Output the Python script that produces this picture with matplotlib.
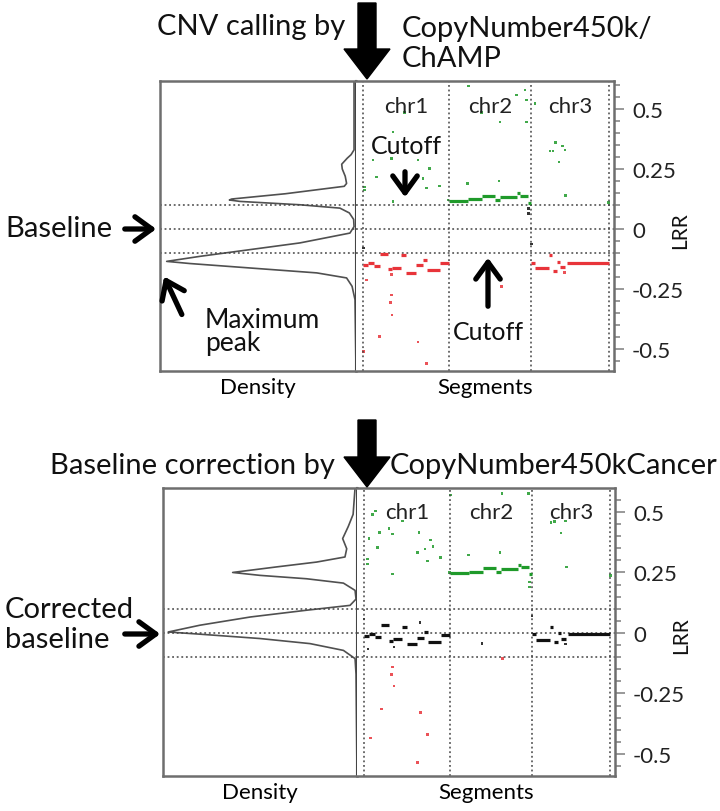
import matplotlib
matplotlib.use('Agg')
import matplotlib.pyplot as plt
from matplotlib.patches import Polygon, FancyArrowPatch
from matplotlib.ticker import MultipleLocator

plt.rcParams['font.family'] = ['Lato', 'DejaVu Sans']

W, H = 720, 812

# ---- data ----
cutoff = 0.1
chr_names = ['chr1', 'chr2', 'chr3']
chr_bounds = [0, 860, 1680, 2460]
lrr_ticks = [0.5, 0.25, 0, -0.25, -0.5]
lrr_tick_labels = ['0.5', '0.25', '0', '-0.25', '-0.5']

# density of LRR values (arbitrary units), before correction
top_dens_lrr = [0.62, 0.33, 0.31, 0.295, 0.27, 0.25, 0.22, 0.19, 0.178, 0.147, 0.125,
                0.121, 0.115, 0.101, 0.087, 0.067, 0.04, 0.01, -0.017, -0.058, -0.086,
                -0.114, -0.135, -0.144, -0.1625, -0.183, -0.204, -0.239, -0.295, -0.59]
top_dens = [0.1, 0.1, 0.25, 0.45, 0.73, 0.7, 0.55, 0.48, 0.6, 3.6, 6.34,
            6.46, 5.92, 2.86, 0.82, 0.34, 0.12, 0.1, 0.31, 2.86, 5.41,
            7.96, 9.66, 8.47, 5.41, 2.0, 0.48, 0.2, 0.05, 0.0]

# after baseline correction
bot_dens_lrr = [0.6, 0.49, 0.44, 0.39, 0.348, 0.314, 0.293, 0.273, 0.25, 0.238, 0.224,
                0.206, 0.176, 0.14, 0.114, 0.094, 0.066, 0.032, 0.004, -0.005, -0.023,
                -0.044, -0.072, -0.106, -0.17, -0.59]
bot_dens = [0.1, 0.2, 0.45, 0.74, 0.53, 0.62, 2.08, 4.14, 6.41, 5.0, 2.6,
            0.7, 0.1, 0.05, 0.36, 2.6, 5.5, 8.1, 9.73, 8.1, 5.0,
            2.42, 0.7, 0.1, 0.05, 0.0]

# segments (start, end, LRR)
seg_start = [0, 45, 110, 165, 250, 290, 380, 430, 530, 600, 640, 770,
             860, 1053, 1187, 1320, 1370, 1537, 1570, 1650,
             1680, 1720, 1860, 1895, 1935, 1965, 2035]
seg_end = [45, 110, 165, 250, 290, 380, 430, 530, 600, 640, 770, 860,
           1053, 1187, 1320, 1370, 1537, 1570, 1650, 1680,
           1715, 1855, 1893, 1935, 1965, 2015, 2460]
top_seg_lrr = [-0.15, -0.143, -0.155, -0.105, -0.168, -0.164, -0.108, -0.182, -0.15, -0.129, -0.171, -0.143,
               0.117, 0.124, 0.1375, 0.121, 0.135, 0.151, 0.1375, 0.11,
               -0.143, -0.164, -0.108, -0.174, -0.136, -0.16, -0.14]
bot_seg_lrr = [-0.013, -0.006, -0.018, 0.032, -0.033, -0.026, 0.025, -0.047, -0.019, 0.005, -0.036, -0.01,
               0.247, 0.253, 0.27, 0.253, 0.266, 0.281, 0.273, 0.245,
               -0.006, -0.029, 0.026, -0.037, 0.001, -0.023, -0.003]

# single probes outside segments
top_pt_x = [417, 300, 100, 283, 550, 667, 600, 633, 767, 133, 17, 17, 300, 850,
            33, 283, 277, 290, 167, 550, 5, 633, 283,
            1053, 1187, 1370, 1537, 1620, 1637, 1637, 1047, 1360, 1653, 1653, 1387, 1687,
            1720, 1927, 1870, 1900, 1993, 2020, 1960, 2027, 2455, 2015, 5]
top_pt_lrr = [0.485, 0.405, 0.2875, 0.294, 0.2875, 0.253, 0.211, 0.17, 0.179, 0.218, 0.176, 0.163, 0.114, 0.12,
              -0.2125, -0.275, -0.307, -0.358, -0.449, -0.47, -0.51, -0.56, -0.19,
              0.596, 0.485, 0.447, 0.558, 0.579, 0.5375, 0.447, 0.19, 0.201, 0.086, 0.065, -0.24, -0.0625,
              0.524, 0.361, 0.326, 0.326, 0.346, 0.329, 0.28, 0.139, 0.11, -0.182, -0.08]
bot_pt_x = [117, 83, 383, 157, 250, 283, 550, 667, 690, 50, 133, 533, 610, 633, 767, 33, 33, 283, 855,
            283, 277, 300, 177, 567, 67, 633, 533,
            0, 560, 40, 300,
            1047, 1360, 1380, 1643, 1653, 1653, 865, 1180, 1387, 1680,
            1870, 1903, 2013, 1970, 2027, 2463, 2015]
bot_pt_lrr = [0.504, 0.49, 0.463, 0.415, 0.431, 0.408, 0.415, 0.384, 0.357, 0.39, 0.3525, 0.332, 0.346, 0.2975,
              0.311, 0.305, 0.284, 0.2425, 0.25,
              -0.14, -0.171, -0.219, -0.313, -0.329, -0.435, -0.42, -0.536,
              0.057, 0.043, -0.067, -0.058,
              0.322, 0.332, 0.577, 0.577, 0.21, 0.19, 0.57, -0.043, -0.106, 0.07,
              0.456, 0.46, 0.463, 0.412, 0.273, 0.238, -0.045]

GREEN, RED, BLACK = '#1f9a2a', '#e8343a', '#111111'
EDGE = '#6e6e6e'


def colour(v):
    if v > cutoff:
        return GREEN
    if v < -cutoff:
        return RED
    return BLACK


def fpos(x, y):
    return x / W, 1 - y / H


def rect(l, t, r, b):
    return [l / W, 1 - b / H, (r - l) / W, (b - t) / H]


def panel(fig, left, mid, right, top, bottom, ylim, dlrr, dens, seg_lrr, pt_x, pt_lrr):
    axd = fig.add_axes(rect(left, top, mid, bottom))
    axs = fig.add_axes(rect(mid, top, right, bottom))

    axd.plot(dens, dlrr, color='#505050', lw=1.2)
    axd.set_xlim(10, 0)
    axd.set_ylim(*ylim)
    axd.set_xticks([])
    axd.set_yticks([])
    for s in ['left', 'top', 'bottom']:
        axd.spines[s].set_color(EDGE)
        axd.spines[s].set_linewidth(1.8)
    axd.spines['right'].set_color('#444444')
    axd.spines['right'].set_linewidth(1.5)
    axd.set_xlabel('Density', fontsize=16, labelpad=4)

    axs.set_xlim(-70, 2510)
    axs.set_ylim(*ylim)
    for v in [cutoff, 0, -cutoff]:
        axd.axhline(v, color='#444444', lw=1.1, ls=(0, (1.2, 1.8)))
        axs.axhline(v, color='#444444', lw=1.1, ls=(0, (1.2, 1.8)))
    for b in chr_bounds:
        axs.axvline(b, color='#444444', lw=1.1, ls=(0, (1.2, 1.8)))

    axs.hlines(seg_lrr, seg_start, seg_end, colors=[colour(v) for v in seg_lrr], lw=2.3)
    axs.scatter(pt_x, pt_lrr, s=3, marker='s', lw=0, c=[colour(v) for v in pt_lrr], alpha=0.85)

    for i, name in enumerate(chr_names):
        axs.text((chr_bounds[i] + chr_bounds[i + 1]) / 2, 0.915, name, fontsize=16,
                 ha='center', va='center', transform=axs.get_xaxis_transform(), color='#222222')

    axs.spines['left'].set_visible(False)
    for s in ['top', 'bottom', 'right']:
        axs.spines[s].set_color(EDGE)
        axs.spines[s].set_linewidth(1.8)
    axs.set_xticks([])
    axs.yaxis.tick_right()
    axs.set_yticks(lrr_ticks)
    axs.set_yticklabels(lrr_tick_labels)
    axs.yaxis.set_minor_locator(MultipleLocator(0.05))
    axs.tick_params(axis='y', which='major', length=7, width=1.2, color='#888888',
                    labelsize=16, pad=6, labelcolor='#222222')
    axs.tick_params(axis='y', which='minor', length=4, width=1.2, color='#888888')
    axs.set_xlabel('Segments', fontsize=16, labelpad=4)
    return axd, axs


fig = plt.figure(figsize=(W / 100, H / 100), dpi=100, facecolor='white')

panel(fig, 160, 356, 614, 82, 372, (-0.592, 0.617),
      top_dens_lrr, top_dens, top_seg_lrr, top_pt_x, top_pt_lrr)
panel(fig, 163, 357, 615, 489, 777, (-0.591, 0.599),
      bot_dens_lrr, bot_dens, bot_seg_lrr, bot_pt_x, bot_pt_lrr)


def txt(x, y, s, size, ha='left', rot=0, ls=1.2):
    fig.text(*fpos(x, y), s, fontsize=size, ha=ha, va='center', rotation=rot,
             color='#111111', linespacing=ls)


def arrow(x0, y0, x1, y1):
    fig.add_artist(FancyArrowPatch(fpos(x0, y0), fpos(x1, y1), transform=fig.transFigure,
                                   arrowstyle='->,head_length=0.55,head_width=0.4',
                                   mutation_scale=22, lw=3.8, color='black'))


def block_arrow(xc, y0, yh, y1):
    pts = [(xc - 9, y0), (xc + 9, y0), (xc + 9, yh), (xc + 23, yh), (xc, y1),
           (xc - 23, yh), (xc - 9, yh)]
    fig.add_artist(Polygon([fpos(x, y) for x, y in pts], closed=True,
                           transform=fig.transFigure, color='black'))


txt(680, 231, 'LRR', 15, ha='center', rot=90)
txt(681, 636, 'LRR', 15, ha='center', rot=90)

txt(157, 27, 'CNV calling by', 21)
txt(402, 44, 'CopyNumber450k/\nChAMP', 21, ls=1.15)
block_arrow(367, 4, 50, 80)

txt(50, 466, 'Baseline correction by', 21)
txt(390, 466, 'CopyNumber450kCancer', 21)
block_arrow(367, 421, 458, 488)

txt(5, 229, 'Baseline', 21)
arrow(122, 230, 159, 230)

txt(205, 332, 'Maximum\npeak', 19, ls=0.9)
arrow(183, 318, 163, 275)

txt(406, 147, 'Cutoff', 18, ha='center')
arrow(405, 170, 405, 201)
txt(488, 332, 'Cutoff', 18, ha='center')
arrow(488, 310, 488, 256)

txt(5, 625, 'Corrected\nbaseline', 21, ls=1.15)
arrow(122, 635, 163, 635)

fig.savefig('out.png', dpi=100)
